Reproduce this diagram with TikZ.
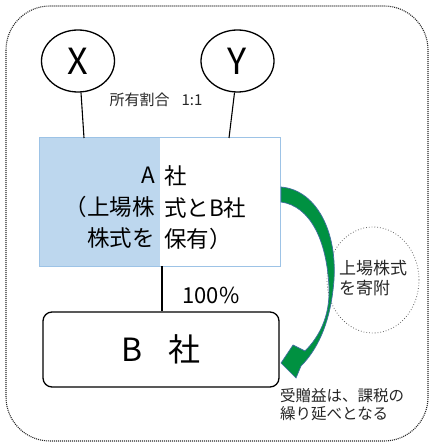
\documentclass[tikz,border=0pt]{standalone}
\usepackage{fontspec}
\usetikzlibrary{shapes.geometric}
\setmainfont{Noto Sans CJK JP}
\definecolor{ablue}{RGB}{189,215,238}
\definecolor{aborder}{RGB}{157,195,230}
\definecolor{agreen}{RGB}{0,145,65}
\definecolor{aedge}{RGB}{65,110,160}
\begin{document}
\begin{tikzpicture}[x=1pt,y=-1pt,
  person/.style={draw,line width=1.3pt,ellipse,minimum width=73pt,minimum height=62pt,inner sep=0pt,font=\fontsize{36}{36}\selectfont},
  link/.style={line width=1.1pt},
  txt/.style={inner sep=0pt,align=left}]
\useasboundingbox (0,0) rectangle (431,443);
\draw[line width=1.1pt,dash pattern=on 1pt off 1pt,rounded corners=44pt,black!85] (6,6) rectangle (428,441);
% persons
\node[person] (X) at (78,61) {X};
\node[person] (Y) at (237.5,61) {Y};
% A box
\fill[ablue] (39,138) rectangle (160,266);
\draw[aborder,line width=1pt] (39,138) rectangle (280,266);
\coordinate (Atopx) at (84,138);
\coordinate (Atopy) at (229,138);
\coordinate (Abot) at (162,266);
\node[txt,anchor=east,align=right,font=\fontsize{22.5}{31.5}\selectfont] (Aleft) at (155,208) {A\\（上場株\\株式を};
\node[txt,anchor=west,align=left,font=\fontsize{22.5}{31.5}\selectfont] (Aright) at (164,208) {社\\式とB社\\保有）};
% B box
\node[draw,line width=1.3pt,rounded corners=9pt,minimum width=236pt,minimum height=75pt,font=\fontsize{32}{32}\selectfont] (B) at (161,349.5) {B\hspace{0.8em}社};
% connectors
\draw[link] (X.south) ++(3,0) -- (Atopx);
\draw[link] (Y.south) ++(-3,0) -- (Atopy);
\draw[link] (Abot) -- (B.north -| Abot);
% labels
\node[txt,font=\fontsize{15}{15}\selectfont,text=black!85] (ratio) at (156,100) {所有割合\hspace{0.8em}1:1};
\node[txt,font=\fontsize{22}{22}\selectfont] (pct) at (211,295) {100\%};
% donation bubble
\node[draw,dotted,black!60,line width=0.8pt,ellipse,minimum width=92pt,minimum height=106pt] (bub) at (373,280) {};
\node[txt,anchor=west,font=\fontsize{17}{20}\selectfont,text=black!85] (bubt) at (339,278) {上場株式\\を寄附};
% green arrow
\filldraw[fill=agreen,draw=aedge,line width=0.7pt,line join=miter]
  (281,187) .. controls (318,190) and (340,236) .. (333,290)
  .. controls (329,325) and (317,350) .. (301,366)
  -- (296,378) -- (281,363) -- (293,345) -- (305,351)
  .. controls (318,338) and (330,318) .. (329,288)
  .. controls (327,240) and (310,206) .. (281,202) -- cycle;
\node[txt,anchor=north west,font=\fontsize{15.5}{18}\selectfont,text=black!85] (note) at (280,388) {受贈益は、課税の\\繰り延べとなる};
\end{tikzpicture}
\end{document}
